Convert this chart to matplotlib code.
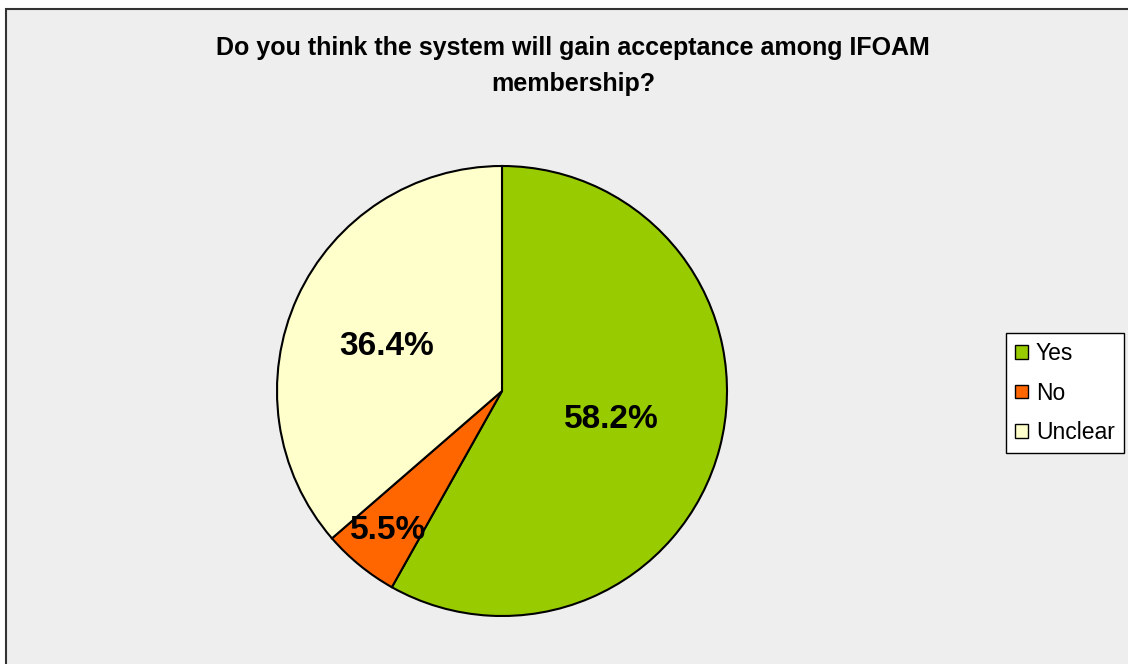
import numpy as np
import matplotlib
matplotlib.use("Agg")
import matplotlib.pyplot as plt
from matplotlib.patches import Rectangle, Patch

labels = ["Yes", "No", "Unclear"]
values = [58.2, 5.5, 36.4]
colors = ["#99CC00", "#FF6600", "#FFFFCC"]
label_dist = [0.50, 0.80, 0.55]
label_turn = [0, 0, 3.5]

plt.rcParams['font.family'] = ['Liberation Sans', 'DejaVu Sans']

fig = plt.figure(figsize=(11.28, 6.64), dpi=100)
fig.patch.set_facecolor("white")

# background frame of the chart area
bg = fig.add_axes([0, 0, 1, 1], zorder=-1)
bg.set_xlim(0, 1128)
bg.set_ylim(664, 0)
bg.axis("off")
bg.add_patch(Rectangle((6, 9), 1200, 800, facecolor="#EEEEEE",
                       edgecolor="#333333", linewidth=1.5))

fig.text(573 / 1128, 1 - 66 / 664,
         "Do you think the system will gain acceptance among IFOAM\nmembership?",
         ha="center", va="center", fontsize=18, fontweight="bold",
         linespacing=1.6)

ax = fig.add_axes([(502 - 225) / 1128, (664 - 616) / 664, 450 / 1128, 450 / 664],
                  zorder=1)
wedges, _ = ax.pie(values, colors=colors, startangle=90, counterclock=False,
                   wedgeprops=dict(edgecolor="black", linewidth=1.5))
ax.set_xlim(-1, 1)
ax.set_ylim(-1, 1)
ax.set_aspect("equal")
ax.axis("off")

for w, v, d, t in zip(wedges, values, label_dist, label_turn):
    ang = np.deg2rad((w.theta1 + w.theta2) / 2 + t)
    ax.text(d * np.cos(ang), d * np.sin(ang), f"{v:.1f}%", ha="center",
            va="center", fontsize=24, fontweight="bold")

handles = [Patch(facecolor=c, edgecolor="black", linewidth=1) for c in colors]
leg = fig.legend(handles, labels, loc="upper left",
                 bbox_to_anchor=(1006 / 1128, 1 - 333 / 664),
                 fontsize=16.5, frameon=True, fancybox=False, handlelength=0.55,
                 handleheight=0.55, handletextpad=0.35, labelspacing=0.72,
                 borderpad=0.4, borderaxespad=0)
leg.get_frame().set_edgecolor("black")
leg.get_frame().set_linewidth(1)
leg.get_frame().set_facecolor("white")
leg.get_frame().set_alpha(1)

fig.savefig("out.png", dpi=100, facecolor=fig.get_facecolor())
